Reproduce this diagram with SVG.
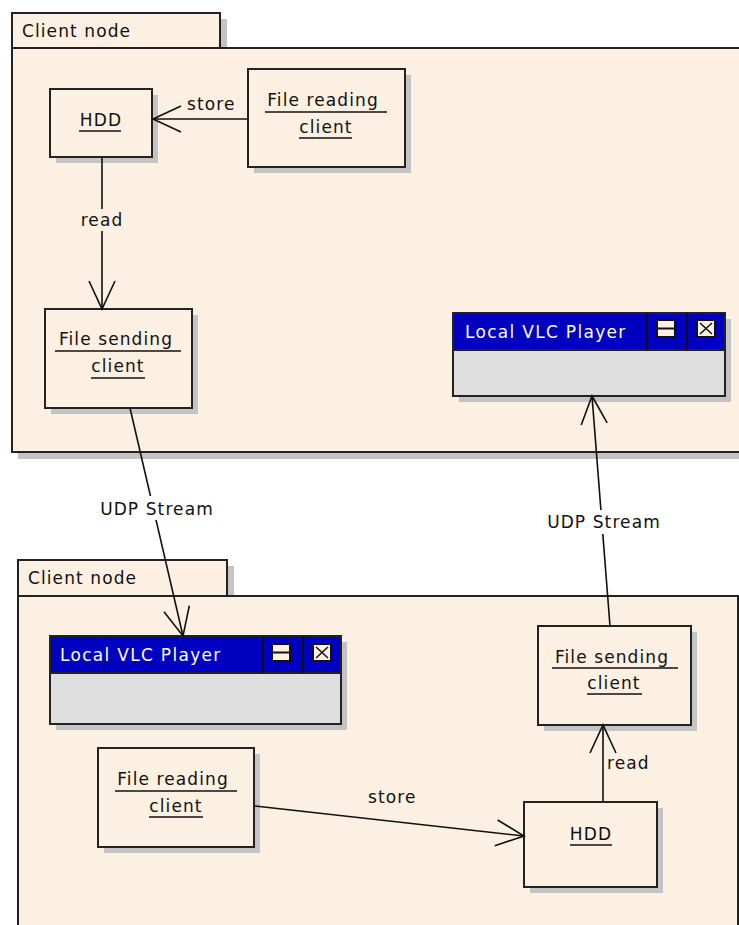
<svg xmlns="http://www.w3.org/2000/svg" width="739" height="925" viewBox="0 0 739 925">
<style>
  .pkg{fill:#FBF0E2;stroke:#222;stroke-width:2}
  .shadow{fill:#C4C4C4}
  .box{fill:#FBF0E2;stroke:#222;stroke-width:2}
  .t{font-family:"DejaVu Sans",Verdana,sans-serif;font-size:17px;letter-spacing:1.1px;fill:#111}
  .tw{font-family:"DejaVu Sans",Verdana,sans-serif;font-size:17px;letter-spacing:1.3px;fill:#fff}
  .ul{stroke:#111;stroke-width:1.5}
  .conn{stroke:#111;stroke-width:1.6;fill:none}
  .title{fill:#0000C0;stroke:#222;stroke-width:2}
  .body{fill:#DEDEDE;stroke:#222;stroke-width:2}
  .icon{fill:#FBF0E2;stroke:#111;stroke-width:2}
  .lblbg{fill:#FBF0E2}
</style>
<defs>
  <marker id="open" markerUnits="userSpaceOnUse" markerWidth="34" markerHeight="34" viewBox="0 0 34 34" refX="31" refY="17" orient="auto">
    <path d="M3,4 L31,17 L3,30" fill="none" stroke="#111" stroke-width="1.6"/>
  </marker>
</defs>
<rect width="739" height="925" fill="#fff"/>

<g id="pkg-top">
  <rect class="shadow" x="220" y="19" width="7" height="30"/>
  <rect class="shadow" x="18" y="452" width="730" height="7"/>
  <rect class="pkg" x="12" y="13" width="208" height="35"/>
  <rect class="pkg" x="12" y="48" width="740" height="404"/>
  <text class="t" x="22" y="37">Client node</text>
</g>

<g id="pkg-bottom">
  <rect class="shadow" x="227" y="566" width="7" height="30"/>
  <rect class="pkg" x="18" y="560" width="209" height="36"/>
  <rect class="pkg" x="18" y="596" width="720" height="340"/>
  <text class="t" x="28" y="584">Client node</text>
</g>

<g id="hdd-top">
  <rect class="shadow" x="56" y="95" width="102" height="68"/>
  <rect class="box" x="50" y="89" width="102" height="68"/>
  <text class="t" x="101" y="126" text-anchor="middle">HDD</text>
  <line class="ul" x1="79" y1="131" x2="121" y2="131"/>
</g>

<g id="file-reading-top">
  <rect class="shadow" x="254" y="75" width="157" height="98"/>
  <rect class="box" x="248" y="69" width="157" height="98"/>
  <text class="t" x="323" y="106" text-anchor="middle">File reading</text>
  <line class="ul" x1="265" y1="112" x2="387" y2="112"/>
  <text class="t" x="326" y="133" text-anchor="middle">client</text>
  <line class="ul" x1="299" y1="138" x2="352" y2="138"/>
</g>

<g id="file-sending-top">
  <rect class="shadow" x="51" y="315" width="147" height="99"/>
  <rect class="box" x="45" y="309" width="147" height="99"/>
  <text class="t" x="116" y="345" text-anchor="middle">File sending</text>
  <line class="ul" x1="55" y1="351" x2="181" y2="351"/>
  <text class="t" x="118" y="372" text-anchor="middle">client</text>
  <line class="ul" x1="91" y1="378" x2="145" y2="378"/>
</g>

<g id="vlc-top">
  <rect class="shadow" x="459" y="319" width="272" height="83"/>
  <rect class="title" x="453" y="313" width="272" height="37"/>
  <rect class="body" x="453" y="350" width="272" height="46"/>
  <line x1="647" y1="313" x2="647" y2="350" stroke="#111" stroke-width="2"/>
  <line x1="687" y1="313" x2="687" y2="350" stroke="#111" stroke-width="2"/>
  <text class="tw" x="465" y="338">Local VLC Player</text>
  <rect class="icon" x="657" y="320" width="18" height="17"/>
  <line x1="657" y1="328.5" x2="675" y2="328.5" stroke="#111" stroke-width="2"/>
  <rect class="icon" x="697" y="320" width="18" height="17"/>
  <path d="M700,323 L712,334 M712,323 L700,334" stroke="#111" stroke-width="1.5"/>
</g>

<g id="vlc-bottom">
  <rect class="shadow" x="56" y="642" width="291" height="88"/>
  <rect class="title" x="50" y="636" width="291" height="37"/>
  <rect class="body" x="50" y="673" width="291" height="51"/>
  <line x1="263" y1="636" x2="263" y2="673" stroke="#111" stroke-width="2"/>
  <line x1="303" y1="636" x2="303" y2="673" stroke="#111" stroke-width="2"/>
  <text class="tw" x="60" y="661">Local VLC Player</text>
  <rect class="icon" x="272" y="644" width="18" height="17"/>
  <line x1="272" y1="652.5" x2="290" y2="652.5" stroke="#111" stroke-width="2"/>
  <rect class="icon" x="313" y="644" width="18" height="17"/>
  <path d="M316,647 L328,658 M328,647 L316,658" stroke="#111" stroke-width="1.5"/>
</g>

<g id="file-sending-bottom">
  <rect class="shadow" x="544" y="632" width="153" height="99"/>
  <rect class="box" x="538" y="626" width="153" height="99"/>
  <text class="t" x="612" y="663" text-anchor="middle">File sending</text>
  <line class="ul" x1="552" y1="668" x2="678" y2="668"/>
  <text class="t" x="614" y="689" text-anchor="middle">client</text>
  <line class="ul" x1="587" y1="694" x2="642" y2="694"/>
</g>

<g id="file-reading-bottom">
  <rect class="shadow" x="104" y="754" width="156" height="99"/>
  <rect class="box" x="98" y="748" width="156" height="99"/>
  <text class="t" x="173" y="785" text-anchor="middle">File reading</text>
  <line class="ul" x1="115" y1="791" x2="237" y2="791"/>
  <text class="t" x="176" y="812" text-anchor="middle">client</text>
  <line class="ul" x1="149" y1="817" x2="203" y2="817"/>
</g>

<g id="hdd-bottom">
  <rect class="shadow" x="530" y="808" width="133" height="85"/>
  <rect class="box" x="524" y="802" width="133" height="85"/>
  <text class="t" x="591" y="840" text-anchor="middle">HDD</text>
  <line class="ul" x1="570" y1="845" x2="612" y2="845"/>
</g>

<g id="connectors">
  <line class="conn" x1="248" y1="119" x2="153" y2="119" marker-end="url(#open)"/>
  <text class="t" x="187" y="110">store</text>

  <line class="conn" x1="102" y1="157" x2="102" y2="309" marker-end="url(#open)"/>
  <rect class="lblbg" x="80" y="209" width="44" height="22"/>
  <text class="t" x="102" y="226" text-anchor="middle">read</text>

  <line class="conn" x1="130" y1="408" x2="183" y2="636" marker-end="url(#open)"/>
  <rect fill="#fff" x="98" y="496" width="118" height="24"/>
  <text class="t" x="157" y="515" text-anchor="middle">UDP Stream</text>

  <line class="conn" x1="610" y1="626" x2="592" y2="396" marker-end="url(#open)"/>
  <rect fill="#fff" x="545" y="510" width="118" height="24"/>
  <text class="t" x="604" y="528" text-anchor="middle">UDP Stream</text>

  <line class="conn" x1="603" y1="802" x2="603" y2="725" marker-end="url(#open)"/>
  <text class="t" x="607" y="769">read</text>

  <line class="conn" x1="255" y1="806" x2="524" y2="836" marker-end="url(#open)"/>
  <text class="t" x="368" y="803">store</text>
</g>
</svg>
